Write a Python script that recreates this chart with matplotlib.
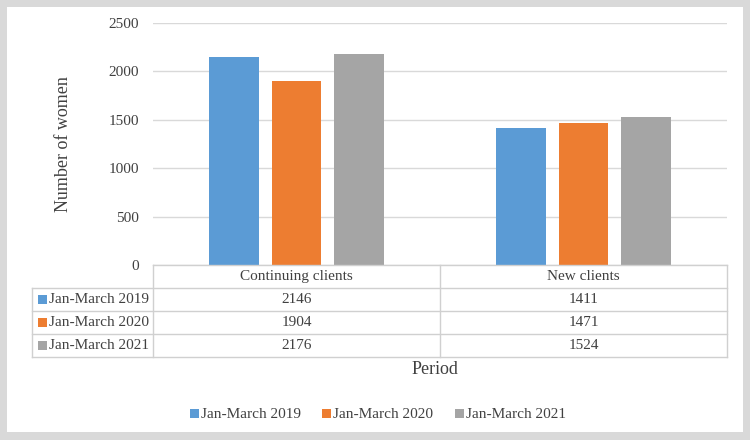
import matplotlib
matplotlib.use("Agg")
import matplotlib.pyplot as plt
from matplotlib.patches import Rectangle
import numpy as np

plt.rcParams['font.family'] = ['Liberation Serif', 'DejaVu Serif']

categories = ["Continuing clients", "New clients"]
series_names = ["Jan-March 2019", "Jan-March 2020", "Jan-March 2021"]
v2019 = [2146, 1411]
v2020 = [1904, 1471]
v2021 = [2176, 1524]
yticks = [0, 500, 1000, 1500, 2000, 2500]
colors = ["#5B9BD5", "#ED7D31", "#A5A5A5"]
values = [v2019, v2020, v2021]

W, H = 750, 440
fig = plt.figure(figsize=(7.5, 4.4), dpi=100, facecolor="#D9D9D9")

# white panel
bg = fig.add_axes([0, 0, 1, 1])
bg.set_xlim(0, W); bg.set_ylim(H, 0); bg.axis("off")
bg.add_patch(Rectangle((7, 7), 736, 425, facecolor="white", edgecolor="none"))

def fx(x): return x / W
def fy(y): return 1 - y / H

L, R, T, B = 153, 727, 23, 265
ax = fig.add_axes([fx(L), fy(B), fx(R) - fx(L), fy(T) - fy(B)])
ax.set_facecolor("none")
x = np.arange(len(categories))
bw = 0.174
gap = 0.045
for i, (vals, c) in enumerate(zip(values, colors)):
    ax.bar(x + (i - 1) * (bw + gap), vals, width=bw, color=c, zorder=3)
ax.set_xlim(-0.5, len(categories) - 0.5)
ax.set_ylim(0, 2500)
ax.set_yticks(yticks)
ax.set_yticklabels([str(t) for t in yticks], fontsize=11, color="#404040")
ax.tick_params(axis="y", length=0, pad=10)
ax.set_xticks([])
for s in ax.spines.values():
    s.set_visible(False)
ax.grid(axis="y", color="#D9D9D9", linewidth=1, zorder=0)
ax.set_ylabel("Number of women", fontsize=13, color="#404040", labelpad=26)

# table
tab = fig.add_axes([0, 0, 1, 1], zorder=5)
tab.set_xlim(0, W); tab.set_ylim(H, 0); tab.axis("off")
lc = "#D0D0D0"
row_h = 23
left_col = 32
xs = np.linspace(L, R, len(categories) + 1)
# horizontal lines
tab.plot([L, R], [B, B], color=lc, lw=1)
for r in range(1, len(series_names) + 2):
    tab.plot([left_col, R], [B + r * row_h] * 2, color=lc, lw=1)
# verticals
tab.plot([left_col, left_col], [B + row_h, B + 4 * row_h], color=lc, lw=1)
for xv in xs:
    tab.plot([xv, xv], [B, B + 4 * row_h], color=lc, lw=1)
# header
for j, cat in enumerate(categories):
    tab.text((xs[j] + xs[j + 1]) / 2, B + row_h / 2, cat, ha="center", va="center",
             fontsize=11, color="#404040")
for i, name in enumerate(series_names):
    yc = B + (i + 1.5) * row_h
    tab.add_patch(Rectangle((left_col + 6, yc - 4.5), 9, 9, facecolor=colors[i], edgecolor="none"))
    tab.text(left_col + 17, yc, name, ha="left", va="center", fontsize=11, color="#404040")
    for j in range(len(categories)):
        tab.text((xs[j] + xs[j + 1]) / 2, yc, str(values[i][j]), ha="center", va="center",
                 fontsize=11, color="#404040")

tab.text((L + R) / 2 - 5, 369, "Period", ha="center", va="center", fontsize=13, color="#404040")

# legend
lx = [190, 322, 455]
for i, name in enumerate(series_names):
    tab.add_patch(Rectangle((lx[i], 409.5), 9, 9, facecolor=colors[i], edgecolor="none"))
    tab.text(lx[i] + 11, 414, name, ha="left", va="center", fontsize=11, color="#404040")

fig.savefig("out.png", dpi=100, facecolor=fig.get_facecolor())
